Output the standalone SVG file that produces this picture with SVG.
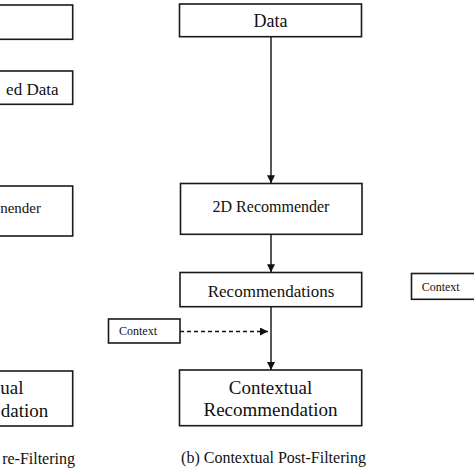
<svg xmlns="http://www.w3.org/2000/svg" width="474" height="474" viewBox="0 0 474 474">
<defs>
<style>
.box{fill:#fff;stroke:#1a1a1a;stroke-width:1.6}
text{font-family:'Liberation Serif','Times New Roman',serif;fill:#111}
.ln{stroke:#111;stroke-width:1.4;fill:none}
.dash{stroke:#111;stroke-width:1.4;fill:none;stroke-dasharray:4,3}
</style>
<marker id="ah" viewBox="0 0 8 8" refX="8" refY="4" markerWidth="8" markerHeight="8" markerUnits="userSpaceOnUse" orient="auto">
<path d="M0,0 L8,4 L0,8 Z" fill="#111"/>
</marker>
</defs>
<rect width="474" height="474" fill="#fff"/>
<g font-family="Liberation Serif, Times New Roman, serif">
<g id="left-data"><rect class="box" x="-20" y="5" width="92.7" height="34.3"/></g>
<g id="left-processed"><rect class="box" x="-20" y="71" width="92.7" height="33.3"/><text x="58.5" y="95" font-size="17" text-anchor="end">ed Data</text></g>
<g id="left-recommender"><rect class="box" x="-20" y="186" width="92.7" height="50"/><text x="41" y="213" font-size="15" text-anchor="end">nender</text></g>
<g id="left-contextual"><rect class="box" x="-20" y="371" width="92.7" height="55"/><text x="23.5" y="394" font-size="19" text-anchor="end">ual</text><text x="48.3" y="416.5" font-size="19" text-anchor="end">dation</text></g>
<g id="left-caption"><text x="75" y="464" font-size="16" text-anchor="end">re-Filtering</text></g>
<g id="data"><rect class="box" x="179.5" y="4" width="182" height="32.7"/><text x="270.5" y="26.5" font-size="18" text-anchor="middle">Data</text></g>
<g id="recommender"><rect class="box" x="180.5" y="183.5" width="181.5" height="50.8"/><text x="271" y="211.5" font-size="16" text-anchor="middle">2D Recommender</text></g>
<g id="recommendations"><rect class="box" x="180" y="272.5" width="181.7" height="34.2"/><text x="271" y="297" font-size="17" text-anchor="middle">Recommendations</text></g>
<g id="contextual"><rect class="box" x="179.5" y="370" width="182.2" height="55.7"/><text x="270.5" y="394" font-size="19" text-anchor="middle">Contextual</text><text x="270.5" y="416" font-size="19" text-anchor="middle">Recommendation</text></g>
<g id="context"><rect class="box" x="108.5" y="319" width="71.5" height="24"/><text x="119" y="335" font-size="12">Context</text></g>
<g id="context-right"><rect class="box" x="411.5" y="273.5" width="80" height="25.8"/><text x="421.7" y="291" font-size="12">Context</text></g>
<g id="caption"><text x="273.5" y="462.5" font-size="16" text-anchor="middle">(b) Contextual Post-Filtering</text></g>
</g>
<g id="connectors">
<line class="ln" x1="271" y1="36.7" x2="271" y2="183.3" marker-end="url(#ah)"/>
<line class="ln" x1="271" y1="234.3" x2="271" y2="272.3" marker-end="url(#ah)"/>
<line class="ln" x1="271" y1="306.7" x2="271" y2="370" marker-end="url(#ah)"/>
<line class="dash" x1="180" y1="331.5" x2="268" y2="331.5" marker-end="url(#ah)"/>
</g>
</svg>
